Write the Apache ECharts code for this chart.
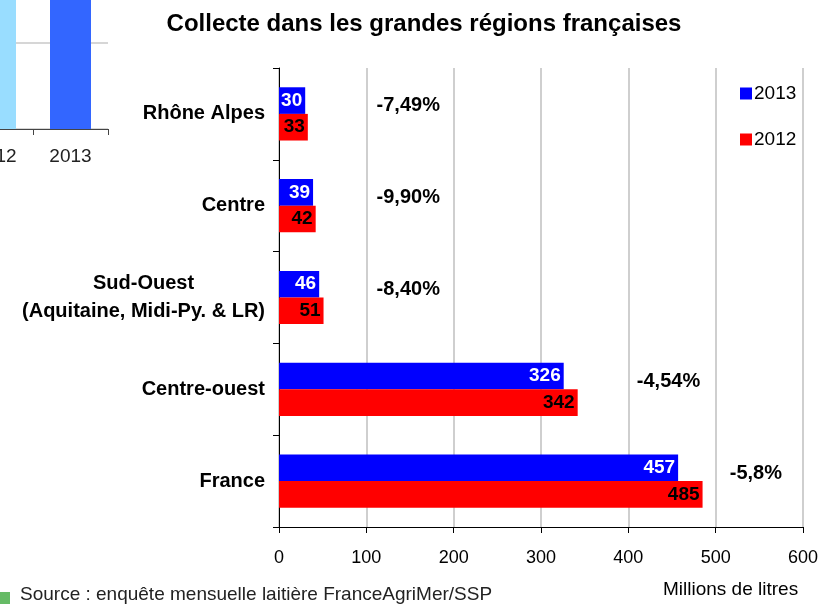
<!DOCTYPE html>
<html><head><meta charset="utf-8">
<script src="https://cdn.jsdelivr.net/npm/echarts@6/dist/echarts.min.js"></script>
<style>html,body{margin:0;padding:0;background:#fff}#c{width:831px;height:604px}</style>
</head><body><div id="c"></div>
<script>
const categories = ['Rhône Alpes', 'Centre', 'Sud-Ouest\n(Aquitaine, Midi-Py. & LR)', 'Centre-ouest', 'France'];
const values2013 = [30, 39, 46, 326, 457];
const values2012 = [33, 42, 51, 342, 485];
const changeLabels = ['-7,49%', '-9,90%', '-8,40%', '-4,54%', '-5,8%'];
const changeX = [148, 148, 148, 446, 546];
const xTicks = [0, 100, 200, 300, 400, 500, 600];
const insetCategories = ['2012', '2013'];
const insetValues = [3.4, 3.4];

const FONT = '"Liberation Sans", Arial, sans-serif';
const chart = echarts.init(document.getElementById('c'), null, {renderer: 'canvas'});

const option = {
  animation: false,
  textStyle: {fontFamily: FONT},
  title: {
    text: 'Collecte dans les grandes régions françaises',
    left: 419, top: 7, textAlign: 'center',
    textStyle: {fontFamily: FONT, fontSize: 24, fontWeight: 'bold', color: '#000'}
  },
  legend: {
    orient: 'vertical', left: 735, top: 79,
    itemWidth: 12, itemHeight: 12, itemGap: 27,
    icon: 'rect',
    data: ['2013', '2012'],
    textStyle: {fontFamily: FONT, fontSize: 19, color: '#000', padding: [0, 0, 0, -3]}
  },
  grid: [
    {left: 279, right: 28, top: 68, bottom: 77, containLabel: false, outerBoundsMode: 'none'},
    {left: -42, width: 150, top: -172, height: 301, containLabel: false, outerBoundsMode: 'none'}
  ],
  xAxis: [
    {
      type: 'value', gridIndex: 0, min: xTicks[0], max: xTicks[xTicks.length - 1], interval: 100,
      axisLine: {show: true, lineStyle: {color: '#000', width: 1}},
      axisTick: {show: true, length: 6, lineStyle: {color: '#000'}},
      axisLabel: {fontFamily: FONT, fontSize: 18, color: '#000', margin: 22},
      splitLine: {show: true, lineStyle: {color: '#bfbfbf', width: 1.5}}
    },
    {
      type: 'category', gridIndex: 1, data: insetCategories,
      axisLine: {show: true, lineStyle: {color: '#444', width: 1}},
      axisTick: {show: true, length: 6, lineStyle: {color: '#444'}},
      axisLabel: {fontFamily: FONT, fontSize: 19, color: '#222', margin: 18, interval: 0},
      splitLine: {show: false}
    }
  ],
  yAxis: [
    {
      type: 'category', gridIndex: 0, data: categories, inverse: true,
      axisLine: {show: true, lineStyle: {color: '#000', width: 1}},
      axisTick: {show: true, length: 6, lineStyle: {color: '#000'}},
      axisLabel: {
        margin: 14, fontFamily: FONT, fontSize: 20, fontWeight: 'bold', color: '#000', lineHeight: 28,
        interval: 0,
        formatter: function (v) {
          return v.split('\n').map(s => '{a|' + s + '}').join('\n');
        },
        rich: {a: {align: 'center', fontFamily: FONT, fontSize: 20, fontWeight: 'bold', color: '#000', lineHeight: 28}}
      }
    },
    {
      type: 'value', gridIndex: 1, min: 0, max: 3.5, interval: 1,
      axisLine: {show: false}, axisTick: {show: false}, axisLabel: {show: false},
      splitLine: {show: true, lineStyle: {color: '#c8c8c8', width: 1.5}}
    }
  ],
  series: [
    {
      name: '2013', type: 'bar', xAxisIndex: 0, yAxisIndex: 0, data: values2013,
      itemStyle: {color: '#0000ff'}, barGap: '0%', barCategoryGap: '42%',
      label: {show: true, position: 'insideRight', distance: 3, color: '#fff',
        fontFamily: FONT, fontSize: 19, fontWeight: 'bold'}
    },
    {
      name: '2012', type: 'bar', xAxisIndex: 0, yAxisIndex: 0, data: values2012,
      itemStyle: {color: '#ff0000'}, barGap: '0%', barCategoryGap: '42%',
      label: {show: true, position: 'insideRight', distance: 3, color: '#000',
        fontFamily: FONT, fontSize: 19, fontWeight: 'bold'}
    },
    {
      name: 'variation', type: 'scatter', xAxisIndex: 0, yAxisIndex: 0,
      symbolSize: 1, silent: true, itemStyle: {opacity: 0},
      data: changeX.map((x, i) => ({value: [x, categories[i]], name: changeLabels[i]})),
      label: {show: true, position: 'inside', offset: [0, -8], formatter: p => p.name, opacity: 1,
        color: '#000', fontFamily: FONT, fontSize: 20, fontWeight: 'bold'}
    },
    {
      name: 'inset', type: 'bar', xAxisIndex: 1, yAxisIndex: 1, barWidth: 41,
      data: insetValues.map((v, i) => ({value: v, itemStyle: {color: i === 0 ? '#99ddff' : '#3366ff'}})),
      silent: true
    }
  ],
  graphic: [
    {type: 'rect', left: 0, top: 592, shape: {width: 10, height: 12}, style: {fill: '#66bb66'}},
    {type: 'text', left: 20, top: 585, style: {text: 'Source : enquête mensuelle laitière FranceAgriMer/SSP',
      font: '19px ' + FONT, fill: '#222'}},
    {type: 'text', left: 663, top: 580, style: {text: 'Millions de litres', font: '19px ' + FONT, fill: '#000'}}
  ]
};
chart.setOption(option);
</script></body></html>
